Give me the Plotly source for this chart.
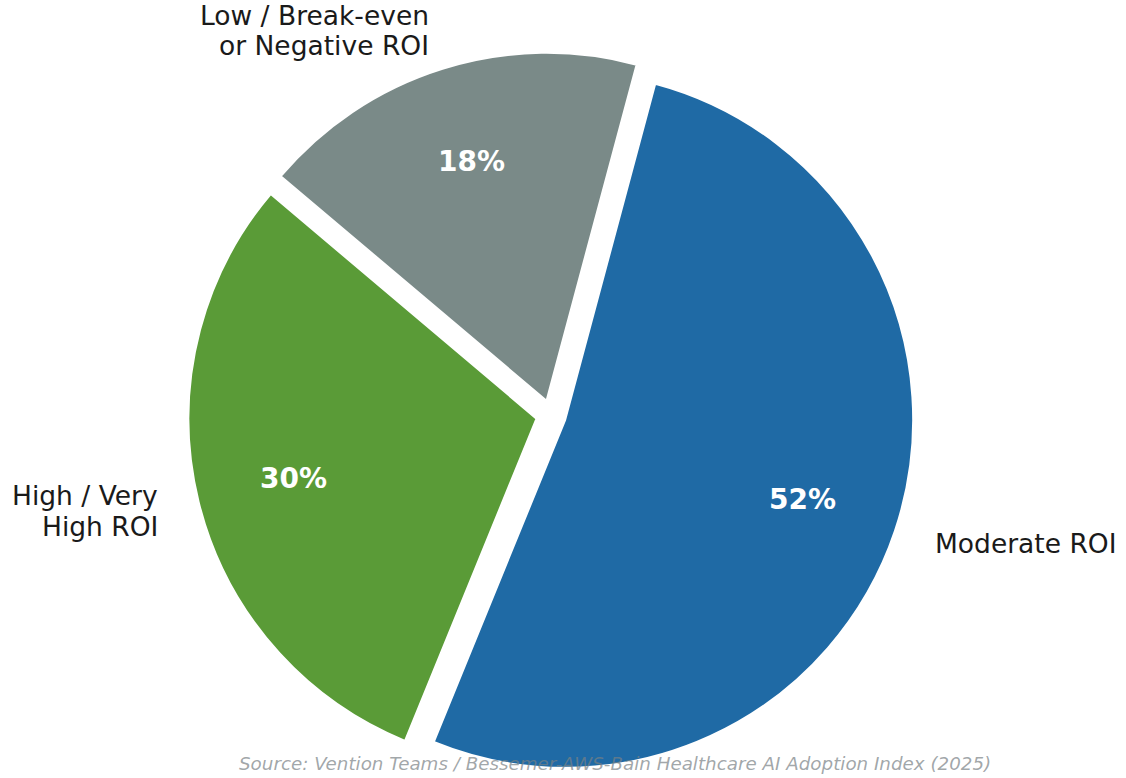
import math
import plotly.graph_objects as go

# Survey shares of reported ROI from healthcare AI deployments
categories = ["Moderate ROI", "High / Very<br>High ROI", "Low / Break-even<br>or Negative ROI"]
shares = [52, 30, 18]
slice_colors = ["#1f6aa5", "#5a9b37", "#7a8a88"]
source_note = "Source: Vention Teams / Bessemer-AWS-Bain Healthcare AI Adoption Index (2025)"

W, H = 1126, 778
ROTATION = 15          # degrees clockwise from 12 o'clock where the first slice starts
PULL = 0.043           # explode distance as a fraction of the radius
DOMAIN_X = [0.0, 0.9787]
DOMAIN_Y = [0.0, 0.933]
FONT = "DejaVu Sans"
LABEL_SIZE = 26.5
PCT_SIZE = 28
LINE_GAP = 1.16 * LABEL_SIZE

fig = go.Figure(
    go.Pie(
        labels=[c.replace("<br>", " ") for c in categories],
        values=shares,
        sort=False,
        direction="clockwise",
        rotation=ROTATION,
        pull=[PULL] * len(shares),
        marker=dict(colors=slice_colors, line=dict(color="white", width=2)),
        textinfo="none",
        hoverinfo="label+percent",
        domain=dict(x=DOMAIN_X, y=DOMAIN_Y),
        showlegend=False,
    )
)

# Same geometry plotly uses to lay out the pie, so the text follows the slices
dom_w = W * (DOMAIN_X[1] - DOMAIN_X[0])
dom_h = H * (DOMAIN_Y[1] - DOMAIN_Y[0])
radius = min(dom_w, dom_h) / 2 / (1 + PULL)
cx = W * (DOMAIN_X[0] + DOMAIN_X[1]) / 2
cy = H * (1 - DOMAIN_Y[0]) - dom_h / 2

total = sum(shares)
angle = ROTATION
annotations = []
for label, value in zip(categories, shares):
    span = 360 * value / total
    mid = math.radians(angle + span / 2)
    angle += span
    sx, sy = math.sin(mid), -math.cos(mid)

    # percentage inside the slice
    d_pct = radius * (0.72 + PULL)
    annotations.append(dict(
        x=(cx + d_pct * sx) / W, y=1 - (cy + d_pct * sy) / H,
        xref="paper", yref="paper", showarrow=False,
        text=f"<b>{value}%</b>", xanchor="center", yanchor="middle",
        font=dict(family=FONT, size=PCT_SIZE, color="white"),
    ))

    # category name outside the slice, one annotation per line for tight leading
    d_lab = radius * (1.115 + PULL)
    lx, ly = cx + d_lab * sx, cy + d_lab * sy
    right_side = sx > 0
    lines = label.split("<br>")
    for i, line in enumerate(lines):
        line_y = ly + (i - (len(lines) - 1) / 2) * LINE_GAP
        annotations.append(dict(
            x=lx / W, y=1 - line_y / H,
            xref="paper", yref="paper", showarrow=False,
            text=line, xanchor="left" if right_side else "right", yanchor="middle",
            font=dict(family=FONT, size=LABEL_SIZE, color="#1a1a1a"),
        ))

annotations.append(dict(
    x=0.546, y=1 - 763 / H, xref="paper", yref="paper", showarrow=False,
    text=f"<i>{source_note}</i>", xanchor="center", yanchor="middle",
    font=dict(family=FONT, size=18.3, color="rgba(120,128,132,0.7)"),
))

fig.update_layout(
    width=W, height=H,
    margin=dict(l=0, r=0, t=0, b=0),
    paper_bgcolor="white", plot_bgcolor="white",
    annotations=annotations,
)

fig.write_html("out.html")
